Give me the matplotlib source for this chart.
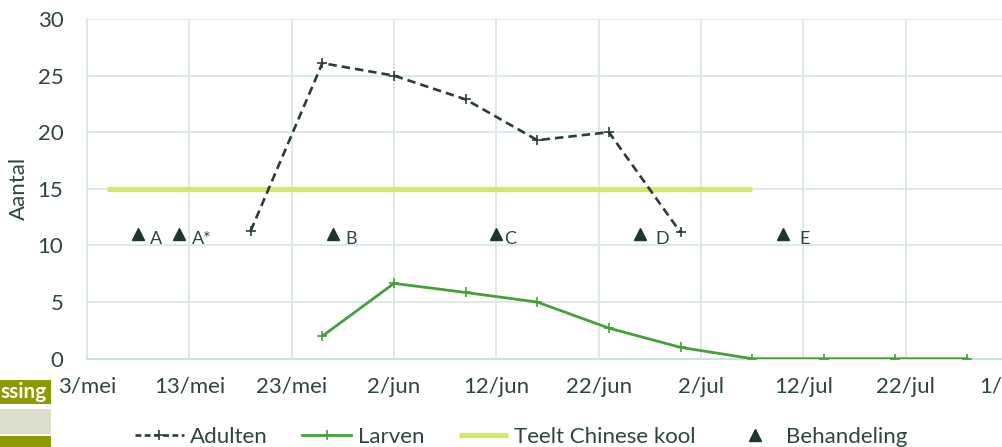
import matplotlib
matplotlib.use("Agg")
import matplotlib.pyplot as plt
import matplotlib.dates as mdates
from matplotlib.patches import Rectangle
from matplotlib.lines import Line2D
import datetime as dt

plt.rcParams['font.family'] = ['Lato', 'DejaVu Sans']

# ---- data ----
adulten_dates = ["2018-05-19", "2018-05-26", "2018-06-02", "2018-06-09", "2018-06-16", "2018-06-23", "2018-06-30"]
adulten_values = [11.3, 26.1, 25.0, 22.9, 19.3, 20.0, 11.15]

larven_dates = ["2018-05-26", "2018-06-02", "2018-06-09", "2018-06-16", "2018-06-23", "2018-06-30",
                "2018-07-07", "2018-07-14", "2018-07-21", "2018-07-28"]
larven_values = [2.0, 6.65, 5.85, 5.0, 2.7, 1.0, 0, 0, 0, 0]

teelt_dates = ["2018-05-05", "2018-07-07"]
teelt_values = [15, 15]

behandeling_dates = ["2018-05-08", "2018-05-12", "2018-05-27", "2018-06-12", "2018-06-26", "2018-07-10"]
behandeling_values = [11, 11, 11, 11, 11, 11]
behandeling_labels = ["A", "A*", "B", "C", "D", "E"]

xtick_dates = ["2018-05-03", "2018-05-13", "2018-05-23", "2018-06-02", "2018-06-12", "2018-06-22",
               "2018-07-02", "2018-07-12", "2018-07-22", "2018-08-01"]
xtick_labels = ["3/mei", "13/mei", "23/mei", "2/jun", "12/jun", "22/jun", "2/jul", "12/jul", "22/jul", "1/aug"]
yticks = [0, 5, 10, 15, 20, 25, 30]

# label offsets in pixels (style)
label_dx = [12, 13, 13, 8, 16, 17]

def d(s):
    return dt.datetime.strptime(s, "%Y-%m-%d")

W, H = 1003, 447
fig = plt.figure(figsize=(W / 100, H / 100), dpi=100)
ax_left, ax_right, ax_top, ax_bottom = 87, 1008, 19, 358.7
ax = fig.add_axes([ax_left / W, (H - ax_bottom) / H, (ax_right - ax_left) / W, (ax_bottom - ax_top) / H])

text_col = '#2f4540'
grid_col = '#dbe7e8'
adult_col = '#2b3d38'
larv_col = '#45a03a'
teelt_col = '#d3ea65'
tri_col = '#1e3630'
FS = 16

ax.plot([d(s) for s in teelt_dates], teelt_values, color=teelt_col, lw=3.8, solid_capstyle='butt',
        label='Teelt Chinese kool', zorder=3)
ax.plot([d(s) for s in adulten_dates], adulten_values, color=adult_col, lw=1.9, ls=(0, (3.2, 1.9)),
        marker='+', ms=7, mew=1.2, label='Adulten', zorder=4)
ax.plot([d(s) for s in larven_dates], larven_values, color=larv_col, lw=2.0,
        marker='+', ms=7, mew=1.2, label='Larven', zorder=4)
ax.plot([d(s) for s in behandeling_dates], behandeling_values, ls='none', marker='^', ms=9,
        color=tri_col, label='Behandeling', zorder=5)

for ds, v, lab, dx in zip(behandeling_dates, behandeling_values, behandeling_labels, label_dx):
    ax.annotate(lab, (mdates.date2num(d(ds)), v), xytext=(dx * 0.72, -5 * 0.72), textcoords='offset points',
                ha='left', va='center', fontsize=13, color=text_col, zorder=6)

ax.set_xlim(d(xtick_dates[0]), d(xtick_dates[-1]))
ax.set_ylim(0, 30)
ax.set_xticks([d(s) for s in xtick_dates])
ax.set_xticklabels(xtick_labels)
ax.set_yticks(yticks)
ax.tick_params(axis='both', length=0, labelsize=FS, colors=text_col)
ax.tick_params(axis='x', pad=13)
ax.tick_params(axis='y', pad=17)
ax.grid(True, color=grid_col, lw=1.3, zorder=0)
ax.set_axisbelow(True)
for side in ['top', 'right']:
    ax.spines[side].set_visible(False)
ax.spines['left'].set_color(grid_col)
ax.spines['left'].set_linewidth(1.3)
ax.spines['bottom'].set_color('#cfe2dc')
ax.spines['bottom'].set_linewidth(1.5)
ax.set_ylabel('Aantal', fontsize=FS, color=text_col)
ax.yaxis.set_label_coords(-58 / (ax_right - ax_left), (358.7 - 188) / (ax_bottom - ax_top))

# legend
handles = [
    Line2D([], [], color=adult_col, lw=1.9, ls=(0, (2.2, 1.3)), marker='+', ms=7, mew=1.2),
    Line2D([], [], color=larv_col, lw=2.0, marker='+', ms=7, mew=1.2),
    Line2D([], [], color=teelt_col, lw=3.8, solid_capstyle='butt'),
    Line2D([], [], ls='none', marker='^', ms=9, color=tri_col),
]
labels = ['Adulten', 'Larven', 'Teelt Chinese kool', 'Behandeling']
leg = fig.legend(handles, labels, loc='center', ncol=4, bbox_to_anchor=(521 / W, 10 / H),
                 frameon=False, fontsize=FS, handlelength=2.2, handletextpad=0.3,
                 columnspacing=1.55, labelcolor=text_col)

# fragment of table at left
fig.patches.append(Rectangle((0, (H - 404) / H), 51 / W, 24 / H, transform=fig.transFigure,
                             facecolor='#8c9900', edgecolor='none', zorder=0))
fig.patches.append(Rectangle((0, (H - 434) / H), 51 / W, 25 / H, transform=fig.transFigure,
                             facecolor='#dcdecb', edgecolor='none', zorder=0))
fig.patches.append(Rectangle((0, 0), 51 / W, 11 / H, transform=fig.transFigure,
                             facecolor='#8c9900', edgecolor='none', zorder=0))
fig.text(47 / W, (H - 392) / H, 'ssing', ha='right', va='center', fontsize=15, fontweight='bold',
         color='white')

fig.savefig('out.png', dpi=100)
